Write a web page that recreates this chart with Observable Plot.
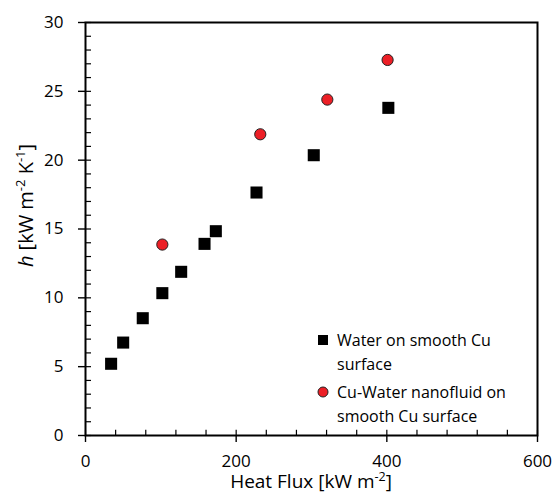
<!DOCTYPE html>
<html><head><meta charset="utf-8">
<script src="https://cdn.jsdelivr.net/npm/d3@7"></script>
<script src="https://cdn.jsdelivr.net/npm/@observablehq/plot@0.6"></script>
<style>html,body{margin:0;padding:0;background:#fff} svg{display:block}</style>
</head><body><div id="chart"></div>
<script>
// Data
const waterFlux = [34, 50, 76, 102, 127, 158, 173, 227, 303, 402];
const waterH    = [5.21, 6.75, 8.52, 10.34, 11.89, 13.92, 14.84, 17.65, 20.36, 23.8];
const nanoFlux  = [102, 232, 321, 401];
const nanoH     = [13.87, 21.88, 24.4, 27.28];
const xTicks = [0, 200, 400, 600];
const yTicks = [0, 5, 10, 15, 20, 25, 30];
const xMinor = d3.range(0, 601, 40);
const yMinor = d3.range(0, 31, 1);
const legendWater = ["Water on smooth Cu", "surface"];
const legendNano  = ["Cu-Water nanofluid on", "smooth Cu surface"];

const waterColor = "#000000";
const nanoColor = "#ec1f26";
const nanoStroke = "#222222";

const water = waterFlux.map((x, i) => ({x, y: waterH[i]}));
const nano = nanoFlux.map((x, i) => ({x, y: nanoH[i]}));

const plot = Plot.plot({
  width: 559, height: 495,
  marginLeft: 85, marginRight: 22, marginTop: 22, marginBottom: 60,
  style: {fontFamily: "Open Sans", fontSize: "17px", color: "black", background: "white", overflow: "visible"},
  x: {domain: [0, 600]},
  y: {domain: [0, 30]},
  marks: [
    Plot.ruleY(yMinor, {x1: 0, x2: 8, stroke: "black", strokeWidth: 1.2}),
    Plot.ruleX(xMinor, {y1: 0, y2: 0.38, stroke: "black", strokeWidth: 1.2}),
    Plot.axisX({ticks: xTicks, tickSize: 7, tickPadding: 12, label: null, fontSize: 17, strokeWidth: 1.4}),
    Plot.axisY({ticks: yTicks, tickSize: 7, tickPadding: 15, label: null, fontSize: 17, strokeWidth: 1.4}),
    Plot.frame({stroke: "black", strokeWidth: 2}),
    Plot.dot(water, {x: "x", y: "y", symbol: "square", r: 6.8, fill: waterColor}),
    Plot.dot(nano, {x: "x", y: "y", r: 5.6, fill: nanoColor, stroke: nanoStroke, strokeWidth: 1})
  ]
});
document.getElementById("chart").appendChild(plot);

const svg = d3.select(plot);
const xs = plot.scale("x"), ys = plot.scale("y");
const xMid = (xs.range[0] + xs.range[1]) / 2;
const yMid = (ys.range[0] + ys.range[1]) / 2;

// X axis title
const xt = svg.append("text")
  .attr("x", xMid).attr("y", 488)
  .attr("text-anchor", "middle")
  .attr("font-family", "Open Sans").attr("font-size", 19).attr("fill", "black");
xt.append("tspan").text("Heat Flux [kW m");
xt.append("tspan").attr("font-size", 12.5).attr("dy", -7).text("-2");
xt.append("tspan").attr("dy", 7).text("]");

// Y axis title
const yt = svg.append("text")
  .attr("transform", `translate(33,${yMid - 23}) rotate(-90)`)
  .attr("text-anchor", "middle")
  .attr("font-family", "Open Sans").attr("font-size", 20).attr("fill", "black");
yt.append("tspan").attr("font-style", "italic").text("h");
yt.append("tspan").text(" [kW m");
yt.append("tspan").attr("font-size", 13).attr("dy", -8).text("-2");
yt.append("tspan").attr("dy", 8).text(" K");
yt.append("tspan").attr("font-size", 13).attr("dy", -8).text("-1");
yt.append("tspan").attr("dy", 8).text("]");

// Legend
const lg = svg.append("g").attr("font-family", "Open Sans").attr("font-size", 16).attr("fill", "black").attr("text-anchor", "start");
lg.append("rect").attr("x", 318).attr("y", 335).attr("width", 10).attr("height", 10).attr("fill", waterColor);
legendWater.forEach((t, i) => lg.append("text").attr("x", 337).attr("y", 346 + i * 24).text(t));
lg.append("circle").attr("cx", 323).attr("cy", 392).attr("r", 5).attr("fill", nanoColor).attr("stroke", nanoStroke).attr("stroke-width", 1);
legendNano.forEach((t, i) => lg.append("text").attr("x", 337).attr("y", 398 + i * 24).text(t));
</script>
</body></html>
